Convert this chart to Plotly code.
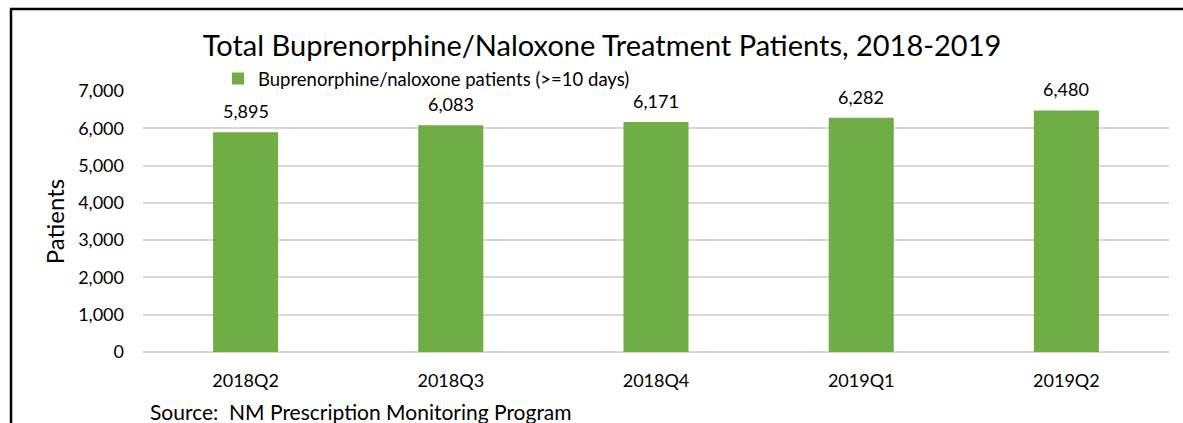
import plotly.graph_objects as go

categories = ["2018Q2", "2018Q3", "2018Q4", "2019Q1", "2019Q2"]
patients = [5895, 6083, 6171, 6282, 6480]
y_ticks = [0, 1000, 2000, 3000, 4000, 5000, 6000, 7000]
series_name = "Buprenorphine/naloxone patients (>=10 days)"

FONT = "Lato, 'Open Sans', sans-serif"
W, H = 1183, 423
L, R, T, B = 143, 14, 91, 71
pw, ph = W - L - R, H - T - B

def px_x(p):
    return (p - L) / pw

def px_y(p):
    return (H - B - p) / ph

fig = go.Figure()
fig.add_trace(go.Bar(
    x=categories, y=patients, name=series_name,
    marker=dict(color="#70AD47", line=dict(width=0)),
    width=0.317, showlegend=True,
))
for c, v in zip(categories, patients):
    fig.add_annotation(x=c, y=v, text=f"{v:,}", showarrow=False, yshift=21,
                       font=dict(family=FONT, size=18, color="#000000"))

fig.update_layout(
    width=W, height=H,
    margin=dict(l=L, r=R, t=T, b=B, autoexpand=False),
    paper_bgcolor="white", plot_bgcolor="white",
    font=dict(family=FONT, size=18, color="#000000"),
    title=dict(text="Total Buprenorphine/Naloxone Treatment Patients, 2018-2019",
               x=602 / W, xanchor="center", y=1 - 46 / H, yanchor="middle",
               font=dict(family=FONT, size=29, color="#000000")),
    legend=dict(orientation="h", x=px_x(218), xanchor="left", y=px_y(60), yanchor="top",
                font=dict(family=FONT, size=18.5), bgcolor="rgba(0,0,0,0)",
                itemwidth=30, traceorder="normal"),
    xaxis=dict(showgrid=False, showline=False, ticks="", tickfont=dict(size=18),
               ticklabelstandoff=16),
    yaxis=dict(range=[0, 7000], tickvals=y_ticks, tickformat=",", showgrid=True,
               gridcolor="#d9d9d9", gridwidth=1.5, zeroline=True, zerolinecolor="#d9d9d9",
               zerolinewidth=1.5, ticks="", tickfont=dict(size=18),
               ticklabelstandoff=18,
               title=dict(text="Patients", font=dict(size=24), standoff=6)),
    bargap=0.683,
)

fig.add_annotation(text="Source:  NM Prescription Monitoring Program", xref="paper", yref="paper",
                   x=px_x(148), y=px_y(411), xanchor="left", yanchor="middle", showarrow=False,
                   font=dict(family=FONT, size=21, color="#000000"))

# outer frame (left and top edges)
fig.add_shape(type="line", xref="paper", yref="paper", x0=px_x(11), x1=px_x(11),
              y0=px_y(9), y1=px_y(430), line=dict(color="black", width=2.5))
fig.add_shape(type="line", xref="paper", yref="paper", x0=px_x(10), x1=px_x(1190),
              y0=px_y(9), y1=px_y(9), line=dict(color="black", width=2.5))

fig.write_html("out.html", config={"displayModeBar": False},
               post_script="document.body.style.margin='0';document.body.style.overflow='hidden';")
